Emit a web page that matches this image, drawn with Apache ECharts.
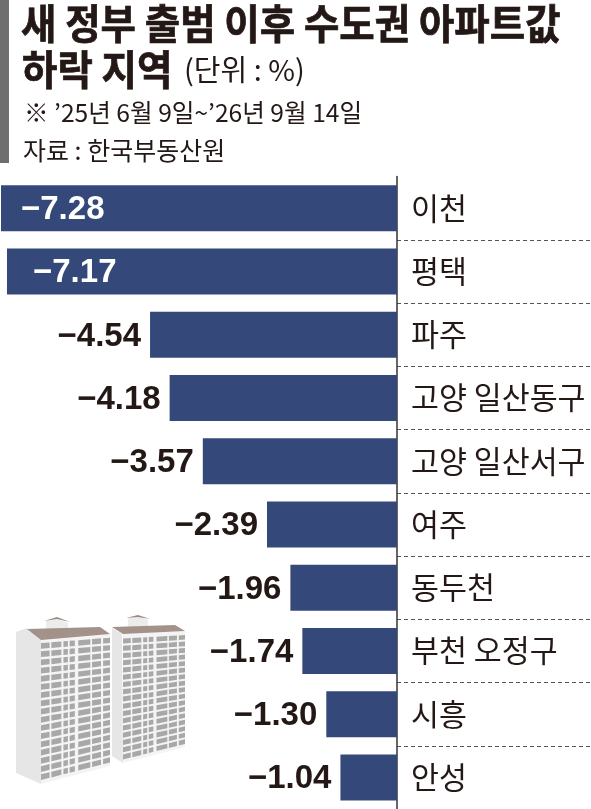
<!DOCTYPE html>
<html><head><meta charset="utf-8">
<style>html,body{margin:0;padding:0;background:#fff}#c{width:591px;height:809px}</style>
<script src="https://cdn.jsdelivr.net/npm/echarts@6/dist/echarts.min.js"></script>
</head><body><div id="c"></div>
<script>
const categories = ['이천','평택','파주','고양 일산동구','고양 일산서구','여주','동두천','부천 오정구','시흥','안성'];
const values = [-7.28,-7.17,-4.54,-4.18,-3.57,-2.39,-1.96,-1.74,-1.30,-1.04];
const titleLine1 = '새 정부 출범 이후 수도권 아파트값';
const titleLine2 = '하락 지역';
const unitText = '(단위 : %)';
const noteText = '※ ’25년 6월 9일~’26년 9월 14일';
const sourceText = '자료 : 한국부동산원';

const KR = '"Noto Sans CJK KR","Noto Sans",sans-serif';
const INK = '#231815';
const BAR = '#34497a';

function txt(text,x,y,size,weight,sy,stroke){
  const style={text:text,fill:INK,font:weight+' '+size+'px '+KR,textVerticalAlign:'middle'};
  if(stroke){style.stroke=INK;style.lineWidth=stroke;}
  return {type:'text',x:x,y:y,scaleY:sy||1,z:5,style:style};
}
function poly(pts,fill,z){return {type:'polygon',z:z||1,silent:true,shape:{points:pts},style:{fill:fill}};}

// apartment illustration (decoration)
function building(b){
  const out=[];
  const map=(u,v)=>{
    const xx=b.fx0+(b.fx1-b.fx0)*u;
    const top=b.ty0+(b.ty1-b.ty0)*u, bot=b.by0+(b.by1-b.by0)*u;
    return [xx,top+(bot-top)*v];
  };
  out.push(poly(b.wall,'#e6e6e6',1));
  out.push(poly([map(0,0),map(1,0),map(1,1),map(0,1)],'#f4f4f4',1));
  out.push(poly(b.hut,'#ececec',1));
  out.push(poly(b.hutRoof,'#9a8b82',2));
  out.push(poly(b.roof,'#a39289',2));
  const cols=[[.0,.125],[.15,.295],[.325,.39],[.415,.49],[.54,.715],[.74,.87],[.9,1]];
  const rows=b.rows;
  for(let r=0;r<rows;r++){
    const v0=.035+r*(.955/rows), v1=v0+(.955/rows)*.7;
    cols.forEach(c=>{
      out.push(poly([map(c[0],v0),map(c[1],v0),map(c[1],v1),map(c[0],v1)],'#a8a8a8',2));
    });
  }
  return out;
}
const b1=building({fx0:41,fx1:110,ty0:638,ty1:633,by0:784,by1:766,rows:17,
  wall:[[16,632],[27,628],[41,640],[41,784],[16,773]],
  roof:[[27,629],[100,627],[110,634],[41,640]],
  hut:[[46,621],[57,619],[68,623],[68,632],[46,632]],
  hutRoof:[[44,621],[57,617],[70,622],[57,619]]});
const b2=building({fx0:123,fx1:185,ty0:634,ty1:631,by0:763,by1:747,rows:17,
  wall:[[112,628],[122,634],[123,763],[112,756]],
  roof:[[112,627],[175,625],[185,631],[123,634]],
  hut:[[128,618],[138,616],[148,620],[148,628],[128,628]],
  hutRoof:[[126,618],[138,615],[150,619],[138,617]]});

const chart=echarts.init(document.getElementById('c'),null,{renderer:'canvas'});
const hidden={show:false};
chart.setOption({
  animation:false,
  backgroundColor:'#fff',
  grid:[
    {left:1,top:176.5,width:396,height:633},
    {left:397,top:176.5,width:194,height:633}
  ],
  xAxis:[
    {type:'value',gridIndex:0,min:-7.28,max:0,axisLine:hidden,axisTick:hidden,axisLabel:hidden,splitLine:hidden},
    {type:'value',gridIndex:1,min:0,max:1,axisLine:hidden,axisTick:hidden,axisLabel:hidden,splitLine:hidden}
  ],
  yAxis:[
    {type:'category',gridIndex:0,data:categories,inverse:true,position:'right',
     axisLine:{show:true,onZero:false,lineStyle:{color:'#333',width:1.5}},axisTick:hidden,
     axisLabel:{show:true,margin:14,color:INK,fontSize:30.4,fontFamily:KR,fontWeight:400,interval:0,verticalAlign:'middle'}},
    {type:'category',gridIndex:1,data:categories,inverse:true,
     axisLine:hidden,axisTick:hidden,axisLabel:hidden,
     splitLine:{show:true,showMinLine:false,showMaxLine:false,interval:0,lineStyle:{color:'#555',width:1,type:[4,3]}}}
  ],
  series:[{
    type:'bar',xAxisIndex:0,yAxisIndex:0,barWidth:46,z:3,
    itemStyle:{color:BAR},
    data:values.map((v,i)=>{
      const inside=v<-7;
      return {value:v,label:{
        show:true,
        position:inside?'insideLeft':'left',
        distance:inside?(i===0?20:26):9,
        offset:[0,2],
        color:inside?'#fff':INK,
        fontFamily:'"Liberation Sans",Arial,sans-serif',fontWeight:'bold',fontSize:33,
        formatter:()=> '−'+Math.abs(v).toFixed(2)
      }};
    })
  }],
  graphic:{elements:[
    {type:'rect',silent:true,shape:{x:0,y:0,width:9,height:163},style:{fill:'#6e6e6e'}},
    txt(titleLine1,21,24,38.5,'bold',1.05,0.7),
    txt(titleLine2,22,70,38.5,'bold',1.05,0.7),
    txt(unitText,184,70,29,'normal',1),
    txt(noteText,24,113,24.6,'normal',1),
    txt(sourceText,23,150,25,'normal',1)
  ].concat(b2,b1)}
});
</script></body></html>
